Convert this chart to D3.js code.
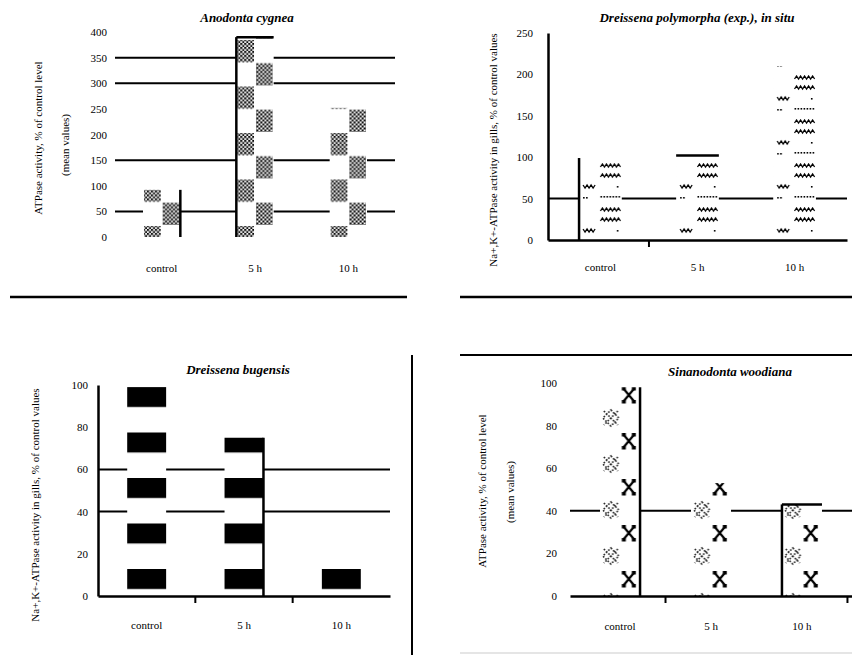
<!DOCTYPE html>
<html><head><meta charset="utf-8">
<script src="https://cdn.jsdelivr.net/npm/d3@7/dist/d3.min.js"></script>
<style>
body{margin:0;background:#fff}
svg{display:block}
text{font-family:"Liberation Serif","Times New Roman",serif;fill:#000}
</style>
</head><body>
<svg id="c" width="852" height="655"></svg>
<script>
// ---------- data ----------
const categories = ["control", "5 h", "10 h"];

const titleA = "Anodonta cygnea";
const valuesA = [92, 390, 252];
const ticksA = [0, 50, 100, 150, 200, 250, 300, 350, 400];
const gridA = [50, 150, 300, 350];

const titleB = "Dreissena polymorpha (exp.), in situ";
const valuesB = [99, 102, 210];
const ticksB = [0, 50, 100, 150, 200, 250];
const gridB = [50];

const titleC = "Dreissena bugensis";
const valuesC = [99, 75, 13];
const ticksC = [0, 20, 40, 60, 80, 100];
const gridC = [40, 60];

const titleD = "Sinanodonta woodiana";
const valuesD = [98, 53, 43];
const ticksD = [0, 20, 40, 60, 80, 100];
const gridD = [40];

const yLabelShort = ["ATPase activity, % of control level", "(mean values)"];
const yLabelLong = ["Na+,K+-ATPase activity in gills, % of control values"];

// ---------- layout ----------
const panels = [
  {title: titleA, values: valuesA, ticks: ticksA, grid: gridA, max: 400,
   x0: 115, x1: 395, yb: 237, yt: 32, pi: 0.6, po: 0.3, pad: 8, catPad: 27,
   yAxis: false, xAxis: false, bTicks: [], tx: 247, ty: 22,
   ylab: yLabelShort, ylx: [38, 65], yly: [138, 145],
   texture: "checker", phase: 39, period: 46.5,
   borders: [["right"], ["left", "top"], []]},
  {title: titleB, values: valuesB, ticks: ticksB, grid: gridB, max: 250,
   x0: 548, x1: 847, yb: 240, yt: 33, pi: 0.56, po: 0.32, pad: 15, catPad: 23,
   yAxis: true, xAxis: true, bTicks: [1], tx: 697, ty: 22,
   ylab: yLabelLong, ylx: [493], yly: [150],
   texture: "zigzag", phase: 31, period: 44,
   borders: [["left"], ["top"], []]},
  {title: titleC, values: valuesC, ticks: ticksC, grid: gridC, max: 100,
   x0: 98, x1: 390, yb: 596, yt: 385, pi: 0.6, po: 0.3, pad: 10, catPad: 25,
   yAxis: true, xAxis: true, bTicks: [1, 2], tx: 238, ty: 374,
   ylab: yLabelLong, ylx: [35], yly: [505],
   texture: "blocks", phase: 23, period: 45.5,
   borders: [[], ["right"], []]},
  {title: titleD, values: valuesD, ticks: ticksD, grid: gridD, max: 100,
   x0: 570, x1: 852, yb: 596, yt: 383, pi: 0.56, po: 0.33, pad: 13, catPad: 26,
   yAxis: false, xAxis: true, bTicks: [1, 3], tx: 730, ty: 376,
   ylab: yLabelShort, ylx: [482, 510], yly: [491, 492],
   texture: "cross", phase: 17, period: 46,
   borders: [["right"], [], ["left", "top"]]}
];

const svg = d3.select("#c");
const defs = svg.append("defs");
defs.append("pattern").attr("id", "dots").attr("patternUnits", "userSpaceOnUse")
  .attr("width", 4).attr("height", 4)
  .call(p => {
    p.append("rect").attr("width", 2).attr("height", 2).attr("fill", "#000");
    p.append("rect").attr("x", 2).attr("y", 2).attr("width", 2).attr("height", 2).attr("fill", "#000");
  });

function zig(x, y, n, up) {
  let s = `M${x},${y}`;
  const h = up ? -3 : 3;
  for (let i = 0; i < n; i++) s += `l2,${h}l2,${-h}`;
  return s;
}
function dotRow(p, x, y, n) {
  for (let i = 0; i < n; i++)
    p.append("rect").attr("x", x + i * 3).attr("y", y).attr("width", 1.6).attr("height", 1.6).attr("fill", "#000");
}

function buildPattern(id, type, bx, bw, phase, period) {
  const p = defs.append("pattern").attr("id", id).attr("patternUnits", "userSpaceOnUse")
    .attr("x", bx).attr("y", phase).attr("width", bw).attr("height", period);
  p.append("rect").attr("width", bw).attr("height", period).attr("fill", "#fff");
  if (type === "checker") {
    p.append("rect").attr("x", 1).attr("y", 1).attr("width", bw / 2 - 2).attr("height", period / 2 - 1).attr("fill", "url(#dots)");
    p.append("rect").attr("x", bw / 2 + 1).attr("y", period / 2 + 1).attr("width", bw / 2 - 2).attr("height", period / 2 - 1).attr("fill", "url(#dots)");
  } else if (type === "zigzag") {
    const g = p.append("g").attr("fill", "none").attr("stroke", "#000").attr("stroke-width", 1.3);
    g.append("path").attr("d", zig(bw * 0.5, 4, 5, true));
    g.append("path").attr("d", zig(bw * 0.5, 14, 5, true));
    g.append("path").attr("d", zig(4, 22, 3, false));
    dotRow(p, bw - 5, 23, 1);
    dotRow(p, bw * 0.5, 33, 7);
    dotRow(p, 4, 34, 2);
  } else if (type === "blocks") {
    p.append("rect").attr("x", 0).attr("y", 0).attr("width", bw).attr("height", 20).attr("fill", "#000");
  } else if (type === "cross") {
    const cx = bw * 0.72, cy = 10;
    p.append("path").attr("d", `M${cx - 5},${cy - 6}L${cx + 5},${cy + 6}M${cx + 5},${cy - 6}L${cx - 5},${cy + 6}`)
      .attr("stroke", "#000").attr("stroke-width", 2.2).attr("fill", "none");
    [[-7, -8], [3, -8], [-7, 5], [3, 5]].forEach(([dx, dy]) =>
      p.append("rect").attr("x", cx + dx).attr("y", cy + dy).attr("width", 4).attr("height", 3.5).attr("fill", "#000"));
    const lx = bw * 0.27, ly = 33;
    p.append("path").attr("d",
      `M${lx - 7},${ly - 7}L${lx + 7},${ly + 7}M${lx + 7},${ly - 7}L${lx - 7},${ly + 7}` +
      `M${lx},${ly - 8}L${lx + 8},${ly}L${lx},${ly + 8}L${lx - 8},${ly}Z`)
      .attr("stroke", "#222").attr("stroke-width", 1.6).attr("stroke-dasharray", "1.6 1.6").attr("fill", "none");
  }
}

panels.forEach((cfg, pi) => {
  const g = svg.append("g");
  const x = d3.scaleBand().domain(categories).range([cfg.x0, cfg.x1])
    .paddingInner(cfg.pi).paddingOuter(cfg.po);
  const y = d3.scaleLinear().domain([0, cfg.max]).range([cfg.yb, cfg.yt]);

  g.selectAll("line.grid").data(cfg.grid).join("line").attr("class", "grid")
    .attr("x1", cfg.x0).attr("x2", cfg.x1)
    .attr("y1", d => y(d)).attr("y2", d => y(d))
    .attr("stroke", "#000").attr("stroke-width", 2);

  categories.forEach((c, i) => buildPattern(`p${pi}_${i}`, cfg.texture, x(c), x.bandwidth(), cfg.phase, cfg.period));

  const data = categories.map((c, i) => ({c, v: cfg.values[i], i}));
  g.selectAll("rect.bar").data(data).join("rect").attr("class", "bar")
    .attr("x", d => x(d.c)).attr("width", x.bandwidth())
    .attr("y", d => y(d.v)).attr("height", d => y(0) - y(d.v))
    .attr("fill", d => `url(#p${pi}_${d.i})`);

  data.forEach(d => {
    const bx = x(d.c), bw = x.bandwidth(), top = y(d.v), bot = y(0);
    cfg.borders[d.i].forEach(side => {
      const ln = g.append("line").attr("stroke", "#000").attr("stroke-width", 2.5);
      if (side === "left") ln.attr("x1", bx).attr("x2", bx).attr("y1", top).attr("y2", bot);
      if (side === "right") ln.attr("x1", bx + bw).attr("x2", bx + bw).attr("y1", top).attr("y2", bot);
      if (side === "top") ln.attr("x1", bx).attr("x2", bx + bw).attr("y1", top).attr("y2", top);
    });
  });

  const ya = g.append("g").attr("transform", `translate(${cfg.x0},0)`)
    .call(d3.axisLeft(y).tickValues(cfg.ticks).tickSize(0).tickSizeOuter(0).tickPadding(cfg.pad));
  ya.selectAll("text").attr("font-size", 11).attr("font-family", "Liberation Serif");
  if (cfg.yAxis) ya.select(".domain").attr("stroke-width", 2.5);
  else ya.select(".domain").remove();

  const xa = g.append("g").attr("transform", `translate(0,${cfg.yb})`)
    .call(d3.axisBottom(x).tickSize(0).tickSizeOuter(0).tickPadding(cfg.catPad));
  xa.selectAll("text").attr("font-size", 11).attr("font-family", "Liberation Serif");
  if (cfg.xAxis) xa.select(".domain").attr("stroke-width", 2.5);
  else xa.select(".domain").remove();

  const st = x.step();
  cfg.bTicks.forEach(k => {
    const bxk = k < categories.length ? x(categories[k]) - st * cfg.pi / 2
                                      : x(categories[k - 1]) + x.bandwidth() + st * cfg.pi / 2;
    g.append("line").attr("x1", bxk).attr("x2", bxk).attr("y1", cfg.yb).attr("y2", cfg.yb + 7)
      .attr("stroke", "#000").attr("stroke-width", 2);
  });

  g.append("text").attr("x", cfg.tx).attr("y", cfg.ty).attr("text-anchor", "middle")
    .attr("font-size", 13).attr("font-weight", "bold").attr("font-style", "italic").text(cfg.title);

  cfg.ylab.forEach((t, k) => {
    g.append("text").attr("transform", `translate(${cfg.ylx[k]},${cfg.yly[k]}) rotate(-90)`)
      .attr("text-anchor", "middle").attr("dy", "0.35em").attr("font-size", 11).text(t);
  });
});

const seps = [
  [10, 297, 407, 297, "#000", 2.5],
  [460, 297, 852, 297, "#000", 2.5],
  [412, 355, 412, 655, "#000", 2],
  [460, 355, 852, 355, "#000", 2],
  [460, 653, 852, 653, "#ddd", 1.5]
];
svg.selectAll("line.sep").data(seps).join("line").attr("class", "sep")
  .attr("x1", d => d[0]).attr("y1", d => d[1]).attr("x2", d => d[2]).attr("y2", d => d[3])
  .attr("stroke", d => d[4]).attr("stroke-width", d => d[5]);
</script>
</body></html>
